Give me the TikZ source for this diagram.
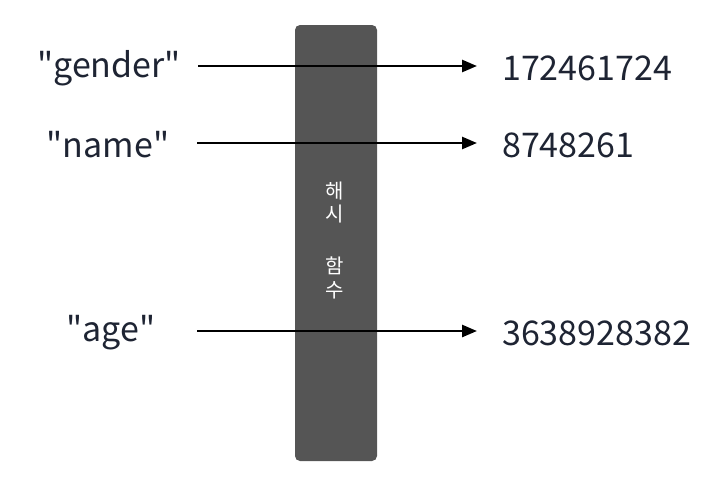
\documentclass[tikz,border=0pt]{standalone}
\usepackage{fontspec}
\setmainfont{Noto Sans CJK KR}
\usetikzlibrary{arrows.meta}

\definecolor{ink}{HTML}{1E2433}
\definecolor{boxgray}{HTML}{555555}

\tikzset{
  key/.style={font=\fontsize{34}{39}\selectfont,text=ink,inner sep=0pt,minimum width=178pt,anchor=center},
  val/.style={font=\fontsize{34}{39}\selectfont,text=ink,inner ysep=0pt,inner xsep=25pt,anchor=west},
  hashchar/.style={text=white,font=\fontsize{20}{24}\selectfont,inner sep=0pt},
  hasharrow/.style={line width=2.6pt,-{Triangle[length=15pt,width=12pt]}}
}

\begin{document}
\begin{tikzpicture}[x=1pt,y=-1pt]
  \useasboundingbox (0,0) rectangle (714,483);

  \fill[boxgray,rounded corners=5pt] (295,25) rectangle (377,461);
  \node[hashchar] (hash1) at (335,191) {해};
  \node[hashchar] (hash2) at (335,214) {시};
  \node[hashchar] (hash3) at (335,266) {함};
  \node[hashchar] (hash4) at (335,290) {수};

  \node[key] (gender) at (109,68) {\textquotedbl gender\textquotedbl};
  \node[key] (name) at (108,145) {\textquotedbl name\textquotedbl};
  \node[key,minimum width=172pt] (age) at (111,333) {\textquotedbl age\textquotedbl};

  \node[val] (v1) at (477,68) {172461724};
  \node[val] (v2) at (477,145) {8748261};
  \node[val] (v3) at (477,333) {3638928382};

  \draw[hasharrow] (gender.east |- 0,66) -- (v1.west |- 0,66);
  \draw[hasharrow] (name.east |- 0,143) -- (v2.west |- 0,143);
  \draw[hasharrow] (age.east |- 0,331) -- (v3.west |- 0,331);
\end{tikzpicture}
\end{document}
